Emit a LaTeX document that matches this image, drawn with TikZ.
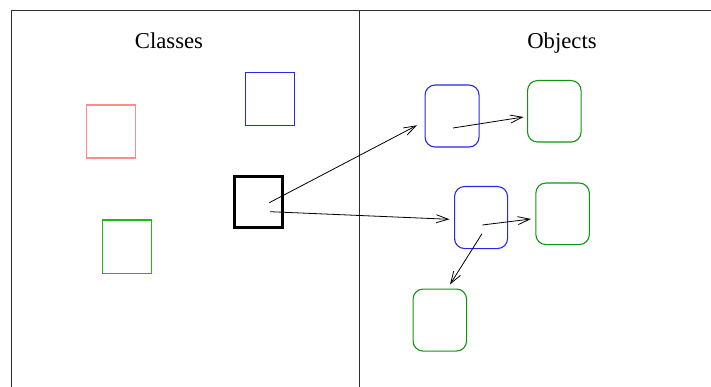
\documentclass[tikz,border=0pt]{standalone}
\usepackage{fontspec}
\setmainfont{Liberation Serif}
\usetikzlibrary{arrows.meta}
\definecolor{clspink}{RGB}{255,140,140}
\definecolor{clsblue}{RGB}{40,40,235}
\definecolor{clsgreen}{RGB}{30,185,30}
\definecolor{objgreen}{RGB}{15,150,15}
\definecolor{framegray}{RGB}{45,45,45}
\tikzset{
  frameline/.style={draw=framegray, line width=1.1pt},
  classbox/.style={draw, line width=1.1pt, minimum width=49pt, minimum height=53pt, inner sep=0pt, anchor=north west},
  objbox/.style={draw, line width=1.1pt, rounded corners=10pt, minimum width=54pt, minimum height=62pt, inner sep=0pt, anchor=north west},
  title/.style={font=\fontsize{22.7}{27}\selectfont, inner sep=0pt, anchor=base},
  link/.style={draw=black, line width=0.8pt, -{Straight Barb[length=12pt, width=8pt, line width=0.8pt]}}
}
\begin{document}
\begin{tikzpicture}[x=1pt, y=-1pt]
\useasboundingbox (0,0) rectangle (711,387);
% frame and divider
\coordinate (ftl) at (11.5,10.5);
\coordinate (ftr) at (712,10.5);
\coordinate (fbl) at (11.5,388);
\coordinate (dtop) at (359.5,10.5);
\coordinate (dbot) at (359.5,388);
\draw[frameline] (ftr) -- (ftl) -- (fbl);
\draw[frameline] (dtop) -- (dbot);
% titles
\node[title] (tcls) at (169,49) {Classes};
\node[title] (tobj) at (562,49) {Objects};
% classes
\node[classbox, draw=clspink] (cpink) at (85.5,104.5) {};
\node[classbox, draw=clsblue] (cblue) at (245,72) {};
\node[classbox, draw=clsgreen] (cgreen) at (101.5,219.5) {};
\node[classbox, draw=black, line width=3pt, minimum width=48pt, minimum height=51pt] (cblack) at (233,175) {};
% objects
\node[objbox, draw=clsblue] (oblue1) at (424.5,84.5) {};
\node[objbox, draw=objgreen, minimum width=53.5pt, minimum height=61.5pt] (ogreen1) at (527,80) {};
\node[objbox, draw=clsblue, minimum width=53pt] (oblue2) at (454,186) {};
\node[objbox, draw=objgreen, minimum width=53.5pt, minimum height=61.5pt] (ogreen2) at (535.3,182.5) {};
\node[objbox, draw=objgreen, minimum width=53.5pt] (ogreen3) at (412.5,288.5) {};
% connector ends
\coordinate (s1) at (269.3,202.7);
\coordinate (e1) at (417,125.3);
\coordinate (s2) at (270,211.7);
\coordinate (e2) at (449.5,219.3);
\coordinate (s3) at (453,128);
\coordinate (e3) at (523.5,117);
\coordinate (s4) at (482.3,225);
\coordinate (e4) at (531,219);
\coordinate (s5) at (482,233.7);
\coordinate (e5) at (450,284.5);
\draw[link] (s1) -- (e1);
\draw[link] (s2) -- (e2);
\draw[link] (s3) -- (e3);
\draw[link] (s4) -- (e4);
\draw[link] (s5) -- (e5);
\end{tikzpicture}
\end{document}
